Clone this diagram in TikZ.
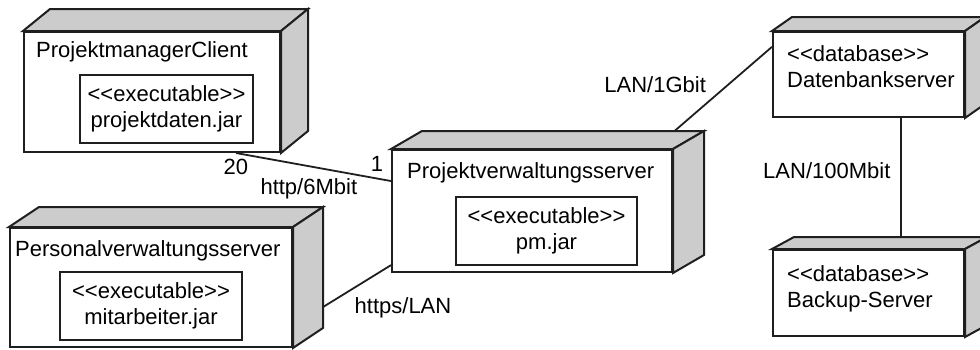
\documentclass[tikz,border=0pt]{standalone}
\usepackage{fontspec}
\setmainfont{Liberation Sans}
\usetikzlibrary{positioning}
\definecolor{sidegray}{gray}{0.8}
\definecolor{inkgray}{gray}{0.12}

\begin{document}
\begin{tikzpicture}[x=1pt,y=-1pt,font=\fontsize{22}{26.5}\selectfont,
  device/.style={draw=inkgray,fill=white,line width=2pt,inner sep=0pt},
  artifact/.style={draw=inkgray,line width=1.8pt,align=center,inner sep=0pt},
  devside/.style={draw=inkgray,fill=sidegray,line width=2pt},
  link/.style={draw=inkgray,line width=1.8pt},
  lbl/.style={inner sep=2pt}]
\clip (0,0) rectangle (980,349);
% front faces of the devices
\node[device,minimum width=256pt,minimum height=120pt] (pmc) at (152,92) {};
\node[device,minimum width=282pt,minimum height=119pt] (pvs) at (151,287.5) {};
\node[device,minimum width=280pt,minimum height=122pt] (prs) at (532,211) {};
\node[device,minimum width=191pt,minimum height=85pt] (dbs) at (868.5,74.5) {};
\node[device,minimum width=191pt,minimum height=86pt] (bks) at (868.5,293) {};
% device names
\node[anchor=base west,inner sep=0pt] (pmcname) at (36,57) {ProjektmanagerClient};
\node[anchor=base west,inner sep=0pt] (pvsname) at (15,256) {Personalverwaltungsserver};
\node[anchor=base west,inner sep=0pt] (prsname) at (407,178) {Projektverwaltungsserver};
\node[anchor=north west,inner sep=0pt,align=left] (dbsname) at (787,45) {<{}<database>{}>\\Datenbankserver};
\node[anchor=north west,inner sep=0pt,align=left] (bksname) at (787,265) {<{}<database>{}>\\Backup-Server};
% artifacts
\node[artifact,minimum width=173pt,minimum height=68pt] (pmcjar) at (166.5,109) {<{}<executable>{}>\\projektdaten.jar};
\node[artifact,minimum width=182pt,minimum height=68pt] (pvsjar) at (151,306) {<{}<executable>{}>\\mitarbeiter.jar};
\node[artifact,minimum width=181pt,minimum height=68pt] (prsjar) at (546.5,231) {<{}<executable>{}>\\pm.jar};
% links
\draw[link] (pmc.-36) -- (prs.168)
  node[lbl,pos=0,below=3pt] (n20) {20}
  node[lbl,pos=1,above left=7pt and 5pt] (n1) {1}
  node[lbl,pos=0.47,below=9pt] (http) {http/6Mbit};
\draw[link] (prs.201) -- (pvs.-15)
  node[lbl,pos=0.4,below right=5pt and 0pt] (https) {https/LAN};
\draw[link] (prs.27) -- (dbs.164)
  node[lbl,pos=0.5,above left=2pt and 4pt] (lan1g) {LAN/1Gbit};
\draw[link] (dbs.-53) -- (dbs.-53 |- bks.north)
  node[lbl,pos=0.4,left=8pt] (lan100) {LAN/100Mbit};
% top and side faces
\foreach \n/\dx/\dy in {pmc/27/22,pvs/30/20,prs/31/18,dbs/20/14,bks/22/12}{
  \filldraw[devside] (\n.north west) -- ++(\dx,-\dy) -- ([shift={(\dx,-\dy)}]\n.north east) -- (\n.north east) -- cycle;
  \filldraw[devside] (\n.north east) -- ([shift={(\dx,-\dy)}]\n.north east) -- ([shift={(\dx,-\dy)}]\n.south east) -- (\n.south east) -- cycle;
}
\end{tikzpicture}
\end{document}
